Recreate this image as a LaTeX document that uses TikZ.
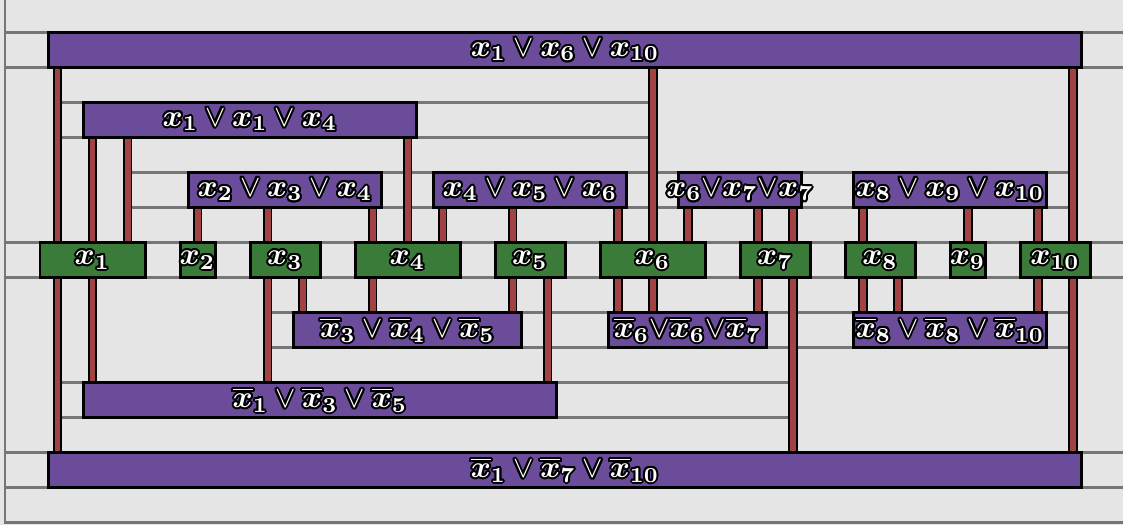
\documentclass[tikz,border=0pt]{standalone}
\usepackage{amsmath}
\usetikzlibrary{backgrounds}
\definecolor{bgcol}{HTML}{E5E5E5}
\definecolor{clausecol}{HTML}{6A4C9B}
\definecolor{varcol}{HTML}{3A7B3A}
\definecolor{wirecol}{HTML}{A24343}
\definecolor{gridcol}{HTML}{767676}
\newcommand\hc[2]{\rlap{\kern#1pt\raise#2pt\copy0}}
\newcommand\hal[1]{\setbox0=\hbox{\textcolor{black}{#1}}\setbox2=\hbox{\textcolor{white}{#1}}%
\hbox to 0pt{\hss
\hc{.65}{0}\hc{-.65}{0}\hc{0}{.65}\hc{0}{-.65}%
\hc{.46}{.46}\hc{-.46}{.46}\hc{.46}{-.46}\hc{-.46}{-.46}%
\hc{.6}{.25}\hc{-.6}{.25}\hc{.6}{-.25}\hc{-.6}{-.25}%
\hc{.25}{.6}\hc{-.25}{.6}\hc{.25}{-.6}\hc{-.25}{-.6}%
\box2\hss}}
\newcommand\X[1]{\boldsymbol{x}_{\boldsymbol{#1}}}
\newcommand\N[1]{\overline{\boldsymbol{x}}_{\boldsymbol{#1}}}
\def\U{0.327}
\tikzset{
  clausebox/.style={draw=black, fill=clausecol, line width=0.98pt, minimum height=35*\U pt, inner sep=0pt},
  varbox/.style={draw=black, fill=varcol, line width=0.98pt, minimum height=35*\U pt, inner sep=0pt},
  wire/.style={draw=black, line width=0.65pt, double=wirecol, double distance=1.96pt},
  gridline/.style={draw=gridcol, line width=0.8pt},
}
\newcommand\clausenode[5]{%
  \pgfmathsetmacro\cx{22.5+35*(#2+#3)/2}%
  \pgfmathsetmacro\cy{35*#4+15}%
  \pgfmathsetmacro\cw{(35*(#3-#2)+18)*\U}%
  \node[clausebox, minimum width=\cw pt] (#1) at (\cx,\cy) {\hal{#5}};}
\newcommand\varnode[4]{%
  \pgfmathsetmacro\cx{5+35*(#2+#3)/2}%
  \pgfmathsetmacro\cw{35*(#3-#2)*\U}%
  \node[varbox, minimum width=\cw pt] (#1) at (\cx,260) {\hal{#4}};}
\begin{document}
\begin{tikzpicture}[x=\U pt, y=-\U pt]
\useasboundingbox (0,0) rectangle (1123,525);
% wire columns
\foreach \c in {1,...,30} { \coordinate (w\c) at ({22.5+35*\c},0); }
% variables
\varnode{x1}{1}{4}{$\X1$}
\varnode{x2}{5}{6}{$\X2$}
\varnode{x3}{7}{9}{$\X3$}
\varnode{x4}{10}{13}{$\X4$}
\varnode{x5}{14}{16}{$\X5$}
\varnode{x6}{17}{20}{$\X6$}
\varnode{x7}{21}{23}{$\X7$}
\varnode{x8}{24}{26}{$\X8$}
\varnode{x9}{27}{28}{$\X9$}
\varnode{x10}{29}{31}{$\X{10}$}
% clauses
\clausenode{C1}{1}{30}{1}{$\X1\vee\X6\vee\X{10}$}
\clausenode{C2}{2}{11}{3}{$\X1\vee\X1\vee\X4$}
\clausenode{C3}{5}{10}{5}{$\X2\vee\X3\vee\X4$}
\clausenode{C4}{12}{17}{5}{$\X4\vee\X5\vee\X6$}
\clausenode{C5}{19}{22}{5}{$\X6{\vee}\X7{\vee}\X7$}
\clausenode{C6}{24}{29}{5}{$\X8\vee\X9\vee\X{10}$}
\clausenode{C7}{8}{14}{9}{$\N3\vee\N4\vee\N5$}
\clausenode{C8}{17}{21}{9}{$\N6{\vee}\N6{\vee}\N7$}
\clausenode{C9}{24}{29}{9}{$\N8\vee\N8\vee\N{10}$}
\clausenode{C10}{2}{15}{11}{$\N1\vee\N3\vee\N5$}
\clausenode{C11}{1}{30}{13}{$\N1\vee\N7\vee\N{10}$}
\begin{scope}[on background layer]
\fill[bgcol] (0,0) rectangle (1123,525);
% row lines
\draw[gridline] (5,-10) -- (5,522.5) -- (1130,522.5);
\foreach \y in {32.5,67.5,242.5,277.5,452.5,487.5} { \draw[gridline] (5,\y) -- (1130,\y); }
\foreach \y in {102.5,137.5} { \draw[gridline] (57.5,\y) -- (652.5,\y); }
\foreach \y in {172.5,207.5} { \draw[gridline] (127.5,\y) -- (1072.5,\y); }
\foreach \y in {312.5,347.5} { \draw[gridline] (267.5,\y) -- (1072.5,\y); }
\foreach \y in {382.5,417.5} { \draw[gridline] (57.5,\y) -- (792.5,\y); }
% wires: positive literals (clause above variable)
\foreach \C/\V/\k in {C1/x1/1, C1/x6/18, C1/x10/30,
  C2/x1/2, C2/x1/3, C2/x4/11,
  C3/x2/5, C3/x3/7, C3/x4/10,
  C4/x4/12, C4/x5/14, C4/x6/17,
  C5/x6/19, C5/x7/21, C5/x7/22,
  C6/x8/24, C6/x9/27, C6/x10/29}
  { \draw[wire] (\C.south -| w\k) -- (\V.north -| w\k); }
% wires: negative literals (clause below variable)
\foreach \C/\V/\k in {C7/x3/8, C7/x4/10, C7/x5/14,
  C8/x6/17, C8/x6/18, C8/x7/21,
  C9/x8/24, C9/x8/25, C9/x10/29,
  C10/x1/2, C10/x3/7, C10/x5/15,
  C11/x1/1, C11/x7/22, C11/x10/30}
  { \draw[wire] (\V.south -| w\k) -- (\C.north -| w\k); }
\end{scope}
\end{tikzpicture}
\end{document}
